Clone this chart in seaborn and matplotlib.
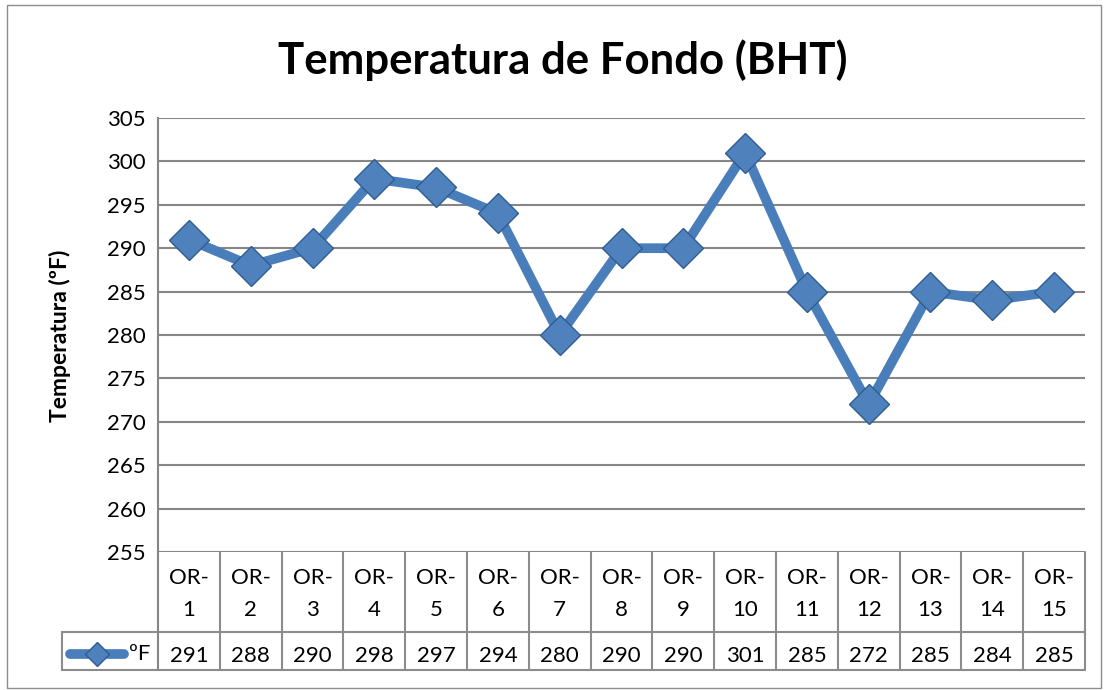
import numpy as np
import pandas as pd
import matplotlib
matplotlib.use("Agg")
import matplotlib.pyplot as plt
import seaborn as sns
from matplotlib.patches import Rectangle

# ---- data ----
categories = ["OR-1", "OR-2", "OR-3", "OR-4", "OR-5", "OR-6", "OR-7", "OR-8",
              "OR-9", "OR-10", "OR-11", "OR-12", "OR-13", "OR-14", "OR-15"]
values = [291, 288, 290, 298, 297, 294, 280, 290, 290, 301, 285, 272, 285, 284, 285]
yticks = [255, 260, 265, 270, 275, 280, 285, 290, 295, 300, 305]
series_name = "ºF"
title = "Temperatura de Fondo (BHT)"
ylabel = "Temperatura (ºF)"

sns.set_theme(style="white")
plt.rcParams['font.family'] = ['Lato', 'DejaVu Sans']
plt.rcParams['text.color'] = 'black'

BLUE = "#4A7EBB"
FACE = "#4F81BD"
EDGE = "#2F5D91"
GRID = "#868686"
FS = 16

W, H = 1109, 690
fig = plt.figure(figsize=(W / 100, H / 100), dpi=100)


def px(l, t, r, b):
    return [l / W, 1 - b / H, (r - l) / W, (b - t) / H]


L, R, T, B = 158, 1085, 118, 552
n = len(categories)
colw = (R - L) / n

ax = fig.add_axes(px(L, T, R, B))
df = pd.DataFrame({"x": np.arange(n), "y": values})
sns.lineplot(data=df, x="x", y="y", ax=ax, color=BLUE, lw=7, marker="D",
             markersize=20, markerfacecolor=FACE, markeredgecolor=EDGE,
             markeredgewidth=1, zorder=3)
ax.set_xlim(-0.5, n - 0.5)
ax.set_ylim(yticks[0], yticks[-1])
ax.set_yticks(yticks)
ax.set_xticks([])
ax.set_xlabel("")
ax.set_ylabel("")
ax.yaxis.grid(True, color=GRID, lw=1.5)
ax.set_axisbelow(True)
for s in ["top", "right", "bottom"]:
    ax.spines[s].set_visible(False)
ax.spines["left"].set_color(GRID)
ax.spines["left"].set_linewidth(1.5)
ax.tick_params(axis="y", length=0, pad=9, labelsize=FS, colors="black")

# ---- data table ----
LEG_L = 62
TB = 670
ax_t = fig.add_axes(px(LEG_L, B, R, TB))
x0 = -0.5 - (L - LEG_L) / colw
ax_t.set_xlim(x0, n - 0.5)
ax_t.set_ylim(0, TB - B)
ax_t.axis("off")
hrow = TB - 632  # value row height
top = TB - B
lc = "#8C8C8C"
ax_t.plot([x0, n - 0.5], [0, 0], color=lc, lw=1.5, clip_on=False)
ax_t.plot([x0, n - 0.5], [hrow, hrow], color=lc, lw=1.5, clip_on=False)
ax_t.plot([x0, x0], [0, hrow], color=lc, lw=1.5, clip_on=False)
for k in range(n + 1):
    ax_t.plot([k - 0.5, k - 0.5], [0, top], color=lc if k else GRID, lw=1.5,
              clip_on=False)
for i, (c, v) in enumerate(zip(categories, values)):
    a, b = c.split("-")
    ax_t.text(i, top - 26, a + "-", ha="center", va="center", fontsize=FS)
    ax_t.text(i, top - 58, b, ha="center", va="center", fontsize=FS)
    ax_t.text(i, 14, str(v), ha="center", va="center", fontsize=FS)


def dx(p):
    return -0.5 + (p - L) / colw


ax_t.plot([dx(70), dx(124)], [16, 16], color=BLUE, lw=7,
          solid_capstyle="round", clip_on=False)
ax_t.plot([dx(97)], [16], marker="D", markersize=12, markerfacecolor=FACE,
          markeredgecolor=EDGE, markeredgewidth=1, clip_on=False)
ax_t.text(dx(129), 16, series_name, ha="left", va="center", fontsize=FS)

# ---- titles ----
fig.text(563 / W, 1 - 60 / H, title, ha="center", va="center",
         fontsize=31.5, fontweight="bold")
fig.text(60 / W, 1 - 336 / H, ylabel, ha="center", va="center",
         rotation=90, fontsize=16.5, fontweight="bold")

fig.add_artist(Rectangle((7 / W, 2 / H), (1101 - 7) / W, (685 - 2) / H,
                         transform=fig.transFigure, fill=False, ec="#8C8C8C",
                         lw=1))

fig.savefig("out.png", dpi=100)
